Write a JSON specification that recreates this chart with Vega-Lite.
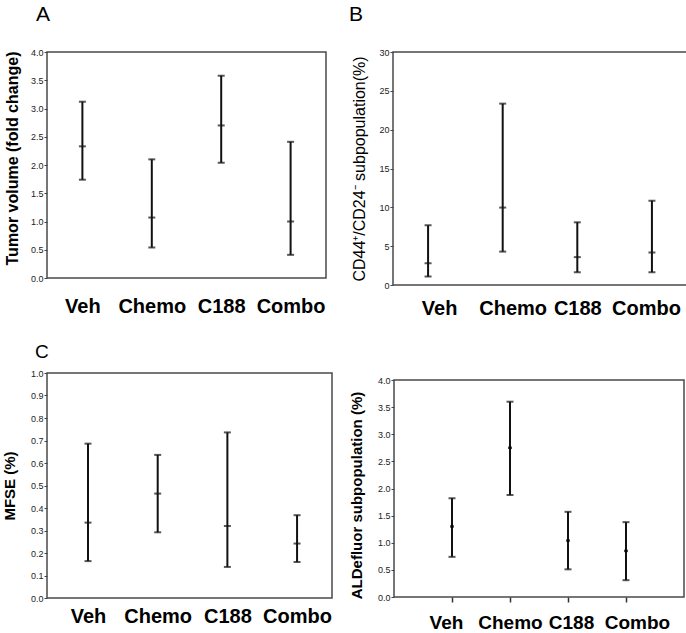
{
  "$schema": "https://vega.github.io/schema/vega-lite/v6.json",
  "padding": {"left": 1, "top": 3, "right": 0, "bottom": 0},
  "background": "white",
  "data": {"values": [
    {"panel": "A", "group": "Veh", "low": 1.74, "mid": 2.33, "high": 3.12},
    {"panel": "A", "group": "Chemo", "low": 0.54, "mid": 1.07, "high": 2.10},
    {"panel": "A", "group": "C188", "low": 2.04, "mid": 2.70, "high": 3.58},
    {"panel": "A", "group": "Combo", "low": 0.41, "mid": 1.00, "high": 2.41},
    {"panel": "B", "group": "Veh", "low": 1.08, "mid": 2.81, "high": 7.68},
    {"panel": "B", "group": "Chemo", "low": 4.30, "mid": 9.97, "high": 23.35},
    {"panel": "B", "group": "C188", "low": 1.64, "mid": 3.59, "high": 8.07},
    {"panel": "B", "group": "Combo", "low": 1.65, "mid": 4.20, "high": 10.85},
    {"panel": "C", "group": "Veh", "low": 0.164, "mid": 0.335, "high": 0.686},
    {"panel": "C", "group": "Chemo", "low": 0.292, "mid": 0.464, "high": 0.636},
    {"panel": "C", "group": "C188", "low": 0.138, "mid": 0.32, "high": 0.736},
    {"panel": "C", "group": "Combo", "low": 0.16, "mid": 0.242, "high": 0.368},
    {"panel": "D", "group": "Veh", "low": 0.74, "mid": 1.30, "high": 1.82},
    {"panel": "D", "group": "Chemo", "low": 1.88, "mid": 2.75, "high": 3.60},
    {"panel": "D", "group": "C188", "low": 0.51, "mid": 1.04, "high": 1.57},
    {"panel": "D", "group": "Combo", "low": 0.31, "mid": 0.85, "high": 1.38}
  ]},
  "columns": 2,
  "align": "none",
  "bounds": "full",
  "spacing": {"row": 23, "column": 15},
  "concat": [
    {
      "width": 279, "height": 226,
      "title": {"text": "A", "dx": -11, "offset": 23},
      "transform": [{"filter": "datum.panel === 'A'"}],
      "encoding": {"x": {"field": "group", "type": "nominal", "sort": null,
        "scale": {"type": "point", "padding": 0.51, "align": 0.5},
        "axis": {"title": null, "labelAngle": 0, "labelFontSize": 20, "labelFontWeight": "bold", "ticks": false, "tickSize": 0, "labelPadding": 18}}},
      "layer": [
        {"mark": {"type": "rule", "strokeWidth": 2, "color": "#111"},
         "encoding": {"y": {"field": "low", "type": "quantitative", "scale": {"domain": [0, 4], "nice": false},
           "axis": {"title": "Tumor volume (fold change)", "titleY": 106, "values": [0, 0.5, 1, 1.5, 2, 2.5, 3, 3.5, 4], "format": ".1f", "minExtent": 17, "maxExtent": 17, "titlePadding": 10, "titleFontSize": 16, "titleFontWeight": "bold"}},
           "y2": {"field": "high"}}},
        {"mark": {"type": "tick", "size": 7, "thickness": 2, "color": "#111"}, "encoding": {"y": {"field": "low", "type": "quantitative",
           "axis": {"title": "Tumor volume (fold change)", "titleY": 106, "values": [0, 0.5, 1, 1.5, 2, 2.5, 3, 3.5, 4], "format": ".1f", "minExtent": 17, "maxExtent": 17, "titlePadding": 10, "titleFontSize": 16, "titleFontWeight": "bold"}}}},
        {"mark": {"type": "tick", "size": 7, "thickness": 2, "color": "#111"}, "encoding": {"y": {"field": "high", "type": "quantitative",
           "axis": {"title": "Tumor volume (fold change)", "titleY": 106, "values": [0, 0.5, 1, 1.5, 2, 2.5, 3, 3.5, 4], "format": ".1f", "minExtent": 17, "maxExtent": 17, "titlePadding": 10, "titleFontSize": 16, "titleFontWeight": "bold"}}}},
        {"mark": {"type": "tick", "size": 7, "thickness": 2, "color": "#111"}, "encoding": {"y": {"field": "mid", "type": "quantitative",
           "axis": {"title": "Tumor volume (fold change)", "titleY": 106, "values": [0, 0.5, 1, 1.5, 2, 2.5, 3, 3.5, 4], "format": ".1f", "minExtent": 17, "maxExtent": 17, "titlePadding": 10, "titleFontSize": 16, "titleFontWeight": "bold"}}}}
      ]
    },
    {
      "width": 294, "height": 233,
      "title": {"text": "B", "dx": -44, "offset": 23},
      "transform": [{"filter": "datum.panel === 'B'"}],
      "encoding": {"x": {"field": "group", "type": "nominal", "sort": null,
        "scale": {"type": "point", "padding": 0.47},
        "axis": {"title": null, "labelAngle": 0, "labelFontSize": 20, "labelFontWeight": "bold", "ticks": false, "tickSize": 0, "labelPadding": 13,
          "labelOffset": {"condition": [{"test": "datum.value === 'Veh'", "value": 11}, {"test": "datum.value === 'Chemo'", "value": 10}, {"test": "datum.value === 'Combo'", "value": -6}], "value": 0}}}},
      "layer": [
        {"mark": {"type": "rule", "strokeWidth": 2, "color": "#111"},
         "encoding": {"y": {"field": "low", "type": "quantitative", "scale": {"domain": [0, 30], "nice": false},
           "axis": {"title": "CD44⁺/CD24⁻ subpopulation(%)", "values": [0, 5, 10, 15, 20, 25, 30], "format": "d", "minExtent": 16, "maxExtent": 16, "titlePadding": 10, "titleFontSize": 16, "titleFontWeight": "normal"}},
           "y2": {"field": "high"}}},
        {"mark": {"type": "tick", "size": 7, "thickness": 2, "color": "#111"}, "encoding": {"y": {"field": "low", "type": "quantitative",
           "axis": {"title": "CD44⁺/CD24⁻ subpopulation(%)", "values": [0, 5, 10, 15, 20, 25, 30], "format": "d", "minExtent": 16, "maxExtent": 16, "titlePadding": 10, "titleFontSize": 16, "titleFontWeight": "normal"}}}},
        {"mark": {"type": "tick", "size": 7, "thickness": 2, "color": "#111"}, "encoding": {"y": {"field": "high", "type": "quantitative",
           "axis": {"title": "CD44⁺/CD24⁻ subpopulation(%)", "values": [0, 5, 10, 15, 20, 25, 30], "format": "d", "minExtent": 16, "maxExtent": 16, "titlePadding": 10, "titleFontSize": 16, "titleFontWeight": "normal"}}}},
        {"mark": {"type": "tick", "size": 7, "thickness": 2, "color": "#111"}, "encoding": {"y": {"field": "mid", "type": "quantitative",
           "axis": {"title": "CD44⁺/CD24⁻ subpopulation(%)", "values": [0, 5, 10, 15, 20, 25, 30], "format": "d", "minExtent": 16, "maxExtent": 16, "titlePadding": 10, "titleFontSize": 16, "titleFontWeight": "normal"}}}}
      ]
    },
    {
      "width": 285, "height": 225,
      "title": {"text": "C", "dx": -12, "offset": 7, "fontSize": 19},
      "transform": [{"filter": "datum.panel === 'C'"}],
      "encoding": {"x": {"field": "group", "type": "nominal", "sort": null,
        "scale": {"type": "point", "padding": 0.545, "align": 0.54},
        "axis": {"title": null, "labelAngle": 0, "labelFontSize": 20, "labelFontWeight": "bold", "ticks": false, "tickSize": 0, "labelPadding": 8}}},
      "layer": [
        {"mark": {"type": "rule", "strokeWidth": 2, "color": "#111"},
         "encoding": {"y": {"field": "low", "type": "quantitative", "scale": {"domain": [0, 1], "nice": false},
           "axis": {"title": "MFSE (%)", "values": [0, 0.1, 0.2, 0.3, 0.4, 0.5, 0.6, 0.7, 0.8, 0.9, 1], "format": ".1f", "minExtent": 17, "maxExtent": 17, "titlePadding": 13, "titleFontSize": 15, "titleFontWeight": "bold"}},
           "y2": {"field": "high"}}},
        {"mark": {"type": "tick", "size": 7, "thickness": 2, "color": "#111"}, "encoding": {"y": {"field": "low", "type": "quantitative",
           "axis": {"title": "MFSE (%)", "values": [0, 0.1, 0.2, 0.3, 0.4, 0.5, 0.6, 0.7, 0.8, 0.9, 1], "format": ".1f", "minExtent": 17, "maxExtent": 17, "titlePadding": 13, "titleFontSize": 15, "titleFontWeight": "bold"}}}},
        {"mark": {"type": "tick", "size": 7, "thickness": 2, "color": "#111"}, "encoding": {"y": {"field": "high", "type": "quantitative",
           "axis": {"title": "MFSE (%)", "values": [0, 0.1, 0.2, 0.3, 0.4, 0.5, 0.6, 0.7, 0.8, 0.9, 1], "format": ".1f", "minExtent": 17, "maxExtent": 17, "titlePadding": 13, "titleFontSize": 15, "titleFontWeight": "bold"}}}},
        {"mark": {"type": "tick", "size": 7, "thickness": 2, "color": "#111"}, "encoding": {"y": {"field": "mid", "type": "quantitative",
           "axis": {"title": "MFSE (%)", "values": [0, 0.1, 0.2, 0.3, 0.4, 0.5, 0.6, 0.7, 0.8, 0.9, 1], "format": ".1f", "minExtent": 17, "maxExtent": 17, "titlePadding": 13, "titleFontSize": 15, "titleFontWeight": "bold"}}}}
      ]
    },
    {
      "width": 290, "height": 217,
      "title": {"text": " ", "offset": 14, "fontSize": 19},
      "transform": [{"filter": "datum.panel === 'D'"}],
      "encoding": {"x": {"field": "group", "type": "nominal", "sort": null,
        "scale": {"type": "point", "padding": 1},
        "axis": {"title": null, "labelAngle": 0, "labelFontSize": 19, "labelFontWeight": "bold", "ticks": true, "tickSize": 5, "labelPadding": 11,
          "labelOffset": {"condition": [{"test": "datum.value === 'Veh'", "value": -6}, {"test": "datum.value === 'C188'", "value": 3}, {"test": "datum.value === 'Combo'", "value": 11}], "value": 0}}}},
      "layer": [
        {"mark": {"type": "rule", "strokeWidth": 2, "color": "#111"},
         "encoding": {"y": {"field": "low", "type": "quantitative", "scale": {"domain": [0, 4], "nice": false},
           "axis": {"title": "ALDefluor subpopulation (%)", "titleY": 115, "values": [0, 0.5, 1, 1.5, 2, 2.5, 3, 3.5, 4], "format": ".1f", "minExtent": 20, "maxExtent": 20, "titlePadding": 10, "titleFontSize": 15, "titleFontWeight": "bold"}},
           "y2": {"field": "high"}}},
        {"mark": {"type": "tick", "size": 7, "thickness": 2, "color": "#111"}, "encoding": {"y": {"field": "low", "type": "quantitative",
           "axis": {"title": "ALDefluor subpopulation (%)", "titleY": 115, "values": [0, 0.5, 1, 1.5, 2, 2.5, 3, 3.5, 4], "format": ".1f", "minExtent": 20, "maxExtent": 20, "titlePadding": 10, "titleFontSize": 15, "titleFontWeight": "bold"}}}},
        {"mark": {"type": "tick", "size": 7, "thickness": 2, "color": "#111"}, "encoding": {"y": {"field": "high", "type": "quantitative",
           "axis": {"title": "ALDefluor subpopulation (%)", "titleY": 115, "values": [0, 0.5, 1, 1.5, 2, 2.5, 3, 3.5, 4], "format": ".1f", "minExtent": 20, "maxExtent": 20, "titlePadding": 10, "titleFontSize": 15, "titleFontWeight": "bold"}}}},
        {"mark": {"type": "tick", "size": 4, "thickness": 2.5, "color": "#000"}, "encoding": {"y": {"field": "mid", "type": "quantitative",
           "axis": {"title": "ALDefluor subpopulation (%)", "titleY": 115, "values": [0, 0.5, 1, 1.5, 2, 2.5, 3, 3.5, 4], "format": ".1f", "minExtent": 20, "maxExtent": 20, "titlePadding": 10, "titleFontSize": 15, "titleFontWeight": "bold"}}}}
      ]
    }
  ],
  "config": {
    "font": "Liberation Sans",
    "view": {"stroke": "#4a4a4a", "strokeWidth": 1.5},
    "title": {"anchor": "start", "frame": "group", "fontSize": 21, "fontWeight": "normal", "color": "#000", "baseline": "alphabetic", "font": "Liberation Sans"},
    "axis": {"grid": false, "domain": false, "labelFont": "Liberation Sans", "titleFont": "Liberation Sans", "labelColor": "#222", "titleColor": "#000", "tickColor": "#444", "labelFontSize": 9, "tickSize": 3, "labelPadding": 1, "labelOverlap": false, "labelBound": false},
    "axisX": {"labelColor": "#000", "tickColor": "#333", "tickWidth": 1.5}
  }
}
